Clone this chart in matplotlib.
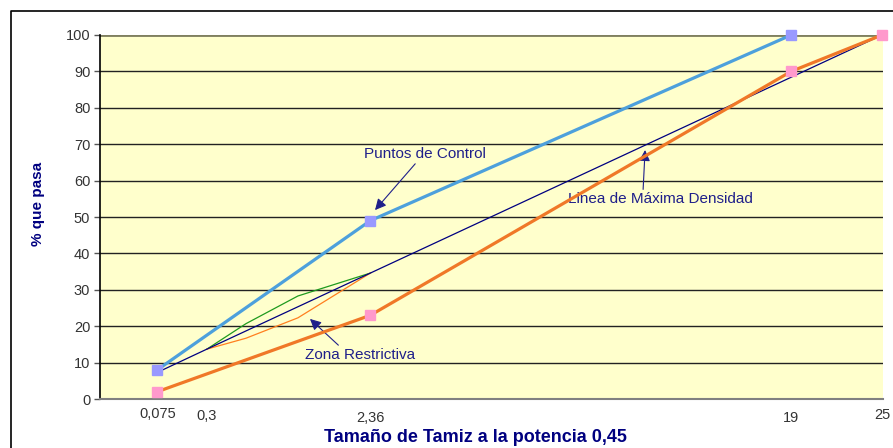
import matplotlib
matplotlib.use("Agg")
import matplotlib.pyplot as plt
from matplotlib.lines import Line2D
import numpy as np

plt.rcParams['font.family'] = ['Liberation Sans', 'DejaVu Sans']

# ---- data ----
tick_sizes = [0.075, 0.3, 2.36, 19, 25]
tick_labels = ["0,075", "0,3", "2,36", "19", "25"]

upper_sizes = [0.075, 2.36, 19]
upper_vals = [8, 49, 100]

lower_sizes = [0.075, 2.36, 19, 25]
lower_vals = [2, 23, 90, 100]

maxd_sizes = [0.075, 0.3, 2.36, 19, 25]
maxd_vals = [7.3, 13.7, 34.6, 88.4, 100]

zone_sizes = [0.3, 0.6, 1.18, 2.36]
zone_upper = [13.7, 20.7, 28.3, 34.6]
zone_lower = [13.7, 16.7, 22.3, 34.6]

POW = 0.45
def tx(s):
    return np.power(np.asarray(s, dtype=float), POW)

W, H = 893, 448
fig = plt.figure(figsize=(W / 100, H / 100), dpi=100)
fig.patch.set_facecolor('white')

L, R, T, B = 100, 883, 35, 399
ax = fig.add_axes([L / W, (H - B) / H, (R - L) / W, (B - T) / H])
ax.set_facecolor('#FFFFCC')

# border lines of the chart area (figure)
fig.add_artist(Line2D([11 / W, 11 / W, 1.0], [0.0, 1 - 11 / H, 1 - 11 / H],
                      transform=fig.transFigure, color='black', lw=1.2))

ax.set_xlim(0, 4.262)
ax.set_ylim(0, 100)
ax.set_yticks(range(0, 101, 10))
ax.yaxis.grid(True, color='#222222', lw=1.0)
ax.set_axisbelow(True)
ax.tick_params(axis='y', length=4, width=1, color='#555555', labelsize=10.5,
               labelcolor='#333333', pad=3)
ax.set_xticks([])
for sp in ['top', 'right']:
    ax.spines[sp].set_visible(False)
ax.spines['left'].set_color('black')
ax.spines['left'].set_linewidth(1.2)
ax.spines['bottom'].set_color('#808080')
ax.spines['bottom'].set_linewidth(1.5)
ax.axhline(100, color='#808060', lw=2, zorder=1)

# x tick labels (staggered as in the source)
label_y = [-0.04, -0.048, -0.053, -0.053, -0.043]
xt = ax.get_xaxis_transform()
for s, lab, yy in zip(tick_sizes, tick_labels, label_y):
    ax.text(tx(s), yy, lab, transform=xt, ha='center', va='center',
            fontsize=10.5, color='#333333', clip_on=False)

# annotations (below the series)
navy = '#1F1F8A'
arrow = dict(arrowstyle='-|>,head_length=0.6,head_width=0.3',
             color=navy, lw=0.8, shrinkA=0, shrinkB=0)
ax.annotate("Puntos de Control", xy=(1.497, 51.9), xytext=(1.437, 67.3),
            fontsize=11, color=navy, ha='left', va='center', zorder=2,
            arrowprops=dict(arrow, relpos=(0.44, 0.0)))
ax.annotate("Linea de Máxima Densidad", xy=(2.967, 68.4), xytext=(2.548, 54.9),
            fontsize=11, color=navy, ha='left', va='center', zorder=2,
            arrowprops=dict(arrow, relpos=(0.405, 1.0)))
ax.annotate("Zona Restrictiva", xy=(1.143, 22.0), xytext=(1.116, 12.1),
            fontsize=11, color=navy, ha='left', va='center', zorder=2,
            arrowprops=dict(arrow, relpos=(0.33, 1.0)))

# restricted zone
ax.plot(tx(zone_sizes), zone_upper, color='#1E9A1E', lw=0.9, zorder=3)
ax.plot(tx(zone_sizes), zone_lower, color='#FF7F1E', lw=0.9, zorder=3)

# maximum density line
ax.plot(tx(maxd_sizes), maxd_vals, color='#000080', lw=0.9, zorder=4)

# control points
ax.plot(tx(upper_sizes), upper_vals, color='#4DA0DC', lw=2.3, zorder=5,
        marker='s', markersize=6.5, markerfacecolor='#9999FF',
        markeredgecolor='#9999FF', clip_on=False)
ax.plot(tx(lower_sizes), lower_vals, color='#F07828', lw=2.3, zorder=5,
        marker='s', markersize=6.5, markerfacecolor='#FF99CC',
        markeredgecolor='#FF99CC', clip_on=False)

fig.text(38 / W, 1 - 204 / H, "% que pasa", rotation=90,
         fontsize=11, fontweight='bold', color='#000080', ha='center',
         va='center')
fig.text(475 / W, 1 - 437 / H, "Tamaño de Tamiz a la potencia 0,45",
         fontsize=13, fontweight='bold', color='#000080', ha='center',
         va='center')

fig.savefig("out.png", dpi=100)
